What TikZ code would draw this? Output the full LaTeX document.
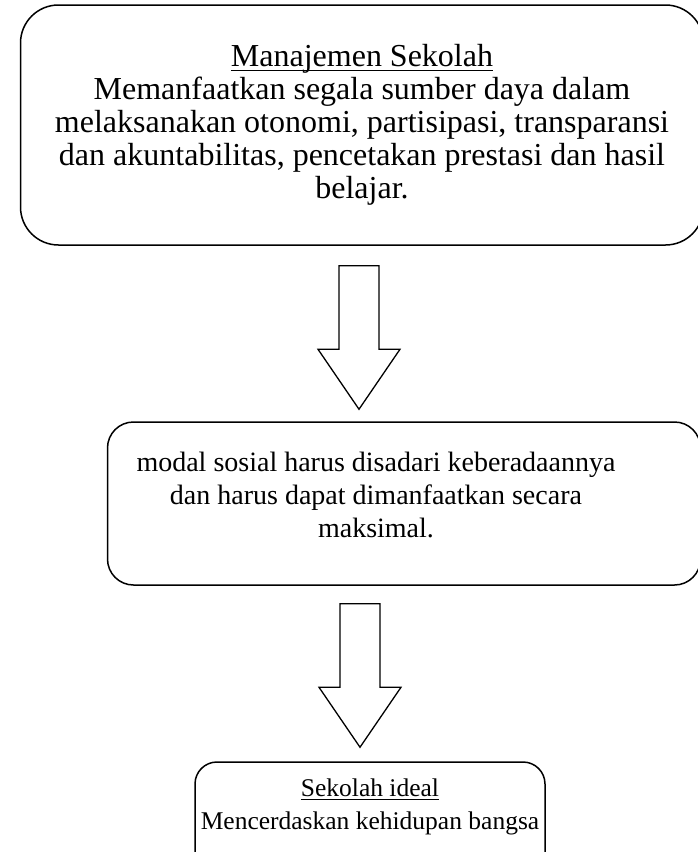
\documentclass[tikz,border=0pt]{standalone}
\usepackage{fontspec}
\setmainfont{Liberation Serif}
\usetikzlibrary{calc}

\newcommand{\headline}[1]{\underline{\raisebox{0pt}[\height][2pt]{#1}}}
\tikzset{
  flowbox/.style={draw, line width=1.5pt, align=center, inner sep=0pt},
  flowtext/.style={align=center, inner sep=0pt, font=\fontsize{#1}{33}\selectfont},
  fatarrow/.style={draw, line width=1.3pt, line join=miter, fill=white},
}
\newcommand{\fatarrow}[2]{%
  \draw[fatarrow] ($(#1)+(-20,0)$) -- ($(#1)+(20,0)$) -- ($(#2)+(20,-60)$)
    -- ($(#2)+(41,-60)$) -- (#2) -- ($(#2)+(-41,-60)$) -- ($(#2)+(-20,-60)$) -- cycle;}

\begin{document}
\begin{tikzpicture}[x=1pt,y=-1pt]
\useasboundingbox (0,0) rectangle (697,852);

\node[flowbox, flowtext=32, rounded corners=38pt, minimum width=683pt, minimum height=240pt]
  (manajemen) at (362,125) {\headline{Manajemen Sekolah}\\
  Memanfaatkan segala sumber daya dalam\\
  melaksanakan otonomi, partisipasi, transparansi\\
  dan akuntabilitas, pencetakan prestasi dan hasil\\
  belajar.};

\node[flowbox, rounded corners=26pt, minimum width=593pt, minimum height=163pt]
  (modal) at (404,503.5) {};
\node[flowtext=28] (modaltext) at ($(modal.center)+(-28,-9)$)
  {modal sosial harus disadari keberadaannya\\
  dan harus dapat dimanfaatkan secara\\
  maksimal.};

\node[flowbox, rounded corners=22pt, minimum width=350pt, minimum height=120pt]
  (ideal) at (370,822) {};
\node[flowtext=25.5, anchor=north] (idealtext) at ($(ideal.north)+(0,17)$)
  {\headline{Sekolah ideal}\\
  Mencerdaskan kehidupan bangsa};

\coordinate (a1) at ($(manajemen.south)+(-3,20)$);
\coordinate (b1) at ($(modal.north)+(-45,-12)$);
\coordinate (a2) at ($(modal.south)+(-44,18)$);
\coordinate (b2) at ($(ideal.north)+(-10,-14)$);
\fatarrow{a1}{b1}
\fatarrow{a2}{b2}
\end{tikzpicture}
\end{document}
